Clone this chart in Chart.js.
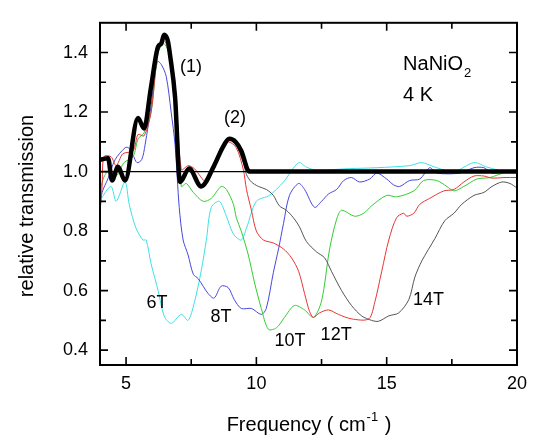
<!DOCTYPE html>
<html>
<head>
<meta charset="utf-8">
<script src="https://cdn.jsdelivr.net/npm/chart.js@4.4.1/dist/chart.umd.min.js"></script>
<style>
  html, body { margin: 0; padding: 0; background: #fff; }
</style>
</head>
<body>
<canvas id="grafico" width="540" height="440"></canvas>
<script>
// Frecuencia (cm-1) y transmision relativa
const frecRef = [4.0, 4.31, 4.46, 4.69, 4.96, 5.46, 5.69, 5.95, 6.23, 6.35, 6.46, 6.6, 6.69, 6.88, 7.07, 7.42, 7.88, 8.38, 8.7, 8.96, 9.2, 9.42, 9.73, 10.2, 12, 16, 20];
const transRef = [1.04, 1.045, 0.97, 1.016, 0.97, 1.18, 1.145, 1.28, 1.42, 1.43, 1.46, 1.44, 1.39, 1.25, 0.965, 1.01, 0.95, 1.02, 1.08, 1.11, 1.10, 1.07, 1.0, 1.0, 1.0, 1.0, 1.0];

const frec6T = [4.0, 4.42, 4.62, 4.96, 5.12, 5.38, 5.65, 5.77, 5.96, 6.23, 6.46, 6.73, 7.12, 7.38, 7.62, 7.88, 8.08, 8.27, 8.58, 8.85, 9.12, 9.42, 9.62, 10.0, 10.5, 11.04, 11.62, 11.92, 12.31, 13.58, 14.62, 15.88, 16.35, 16.92, 17.58, 18.35, 18.85, 19.54, 20];
const trans6T = [0.904, 0.95, 0.90, 0.965, 0.89, 0.81, 0.77, 0.77, 0.69, 0.60, 0.515, 0.49, 0.52, 0.50, 0.56, 0.665, 0.77, 0.88, 0.90, 0.85, 0.79, 0.77, 0.81, 0.90, 0.92, 0.965, 1.03, 1.015, 1.005, 1.01, 1.013, 1.02, 1.03, 1.013, 1.0, 1.03, 1.015, 1.0, 0.995];

const frec8T = [4.0, 4.08, 4.3, 4.58, 4.96, 5.1, 5.27, 5.42, 5.6, 5.73, 5.96, 6.2, 6.35, 6.54, 6.73, 6.88, 7.04, 7.19, 7.38, 7.58, 7.77, 8.15, 8.38, 8.65, 8.92, 9.15, 9.42, 9.81, 10.19, 10.38, 10.65, 10.85, 11.04, 11.27, 11.62, 11.85, 12.23, 12.5, 12.77, 13.08, 13.35, 13.65, 13.96, 14.35, 14.62, 15.0, 15.27, 15.5, 15.88, 16.27, 16.65, 16.92, 17.81, 18.35, 18.73, 19.04, 19.54];
const trans8T = [0.88, 0.93, 0.975, 1.04, 1.08, 1.08, 1.055, 1.03, 1.04, 1.09, 1.22, 1.37, 1.36, 1.32, 1.2, 1.09, 0.88, 0.77, 0.72, 0.655, 0.64, 0.59, 0.575, 0.615, 0.61, 0.57, 0.54, 0.54, 0.52, 0.54, 0.66, 0.74, 0.825, 0.92, 0.96, 0.94, 0.88, 0.90, 0.925, 0.94, 0.97, 0.98, 0.965, 0.975, 0.995, 0.975, 0.955, 0.95, 0.97, 0.975, 1.013, 0.995, 0.995, 1.013, 1.013, 0.995, 1.0];

const frec10T = [4.0, 4.12, 4.31, 4.62, 4.92, 5.27, 5.46, 5.69, 5.96, 6.23, 6.46, 6.73, 6.92, 7.12, 7.31, 7.58, 7.96, 8.27, 8.65, 8.85, 9.12, 9.23, 9.42, 9.69, 9.92, 10.19, 10.46, 10.77, 11.08, 11.46, 11.85, 12.19, 12.5, 12.81, 13.08, 13.27, 13.77, 14.12, 14.42, 15.0, 15.38, 16.04, 16.42, 16.92, 17.31, 17.58, 17.96, 18.46, 18.96, 19.54, 20];
const trans10T = [0.93, 0.975, 1.0, 0.985, 1.03, 1.05, 1.11, 1.13, 1.2, 1.40, 1.43, 1.37, 1.24, 0.95, 0.96, 0.93, 0.90, 0.91, 0.95, 0.94, 0.89, 0.845, 0.80, 0.72, 0.63, 0.54, 0.47, 0.475, 0.51, 0.55, 0.535, 0.51, 0.565, 0.74, 0.84, 0.87, 0.85, 0.86, 0.885, 0.92, 0.915, 0.935, 0.97, 0.97, 0.95, 0.935, 0.95, 0.975, 0.98, 0.997, 1.0];

const frec12T = [4.0, 4.08, 4.15, 4.42, 4.62, 4.88, 5.27, 5.46, 5.69, 5.96, 6.23, 6.46, 6.73, 6.92, 7.12, 7.38, 7.62, 8.08, 8.38, 8.7, 8.92, 9.23, 9.5, 9.62, 9.81, 10.0, 10.27, 10.65, 11.04, 11.35, 11.62, 11.85, 12.04, 12.19, 12.42, 12.77, 13.15, 13.65, 14.31, 14.54, 14.81, 15.08, 15.38, 15.65, 15.77, 16.04, 16.27, 16.65, 17.19, 17.58, 17.96, 18.35, 18.73, 19.04, 19.5, 20];
const trans12T = [0.86, 0.95, 1.05, 1.05, 1.02, 1.06, 1.07, 1.125, 1.12, 1.2, 1.41, 1.44, 1.38, 1.25, 1.006, 1.02, 1.01, 0.965, 1.02, 1.08, 1.10, 1.08, 1.006, 0.94, 0.87, 0.80, 0.77, 0.76, 0.74, 0.71, 0.665, 0.59, 0.53, 0.51, 0.525, 0.535, 0.52, 0.505, 0.505, 0.56, 0.665, 0.77, 0.845, 0.86, 0.85, 0.86, 0.89, 0.91, 0.935, 0.94, 0.965, 0.985, 0.985, 0.978, 0.98, 0.98];

const frec14T = [9.2, 9.5, 9.62, 9.81, 10.08, 10.38, 10.65, 10.88, 11.15, 11.42, 11.65, 11.92, 12.31, 12.62, 12.88, 13.27, 13.65, 14.04, 14.42, 14.69, 15.08, 15.46, 15.85, 16.08, 16.35, 16.85, 17.23, 17.58, 17.88, 18.35, 18.73, 19.04, 19.42, 19.73, 20];
const trans14T = [1.10, 1.03, 0.99, 0.965, 0.95, 0.94, 0.92, 0.885, 0.87, 0.845, 0.815, 0.765, 0.73, 0.71, 0.665, 0.60, 0.55, 0.515, 0.50, 0.497, 0.515, 0.525, 0.57, 0.645, 0.70, 0.775, 0.835, 0.86, 0.89, 0.92, 0.93, 0.95, 0.965, 0.96, 0.945];

// Linea de referencia en 1.0
const frecUno = [4, 20];
const transUno = [1, 1];

// Marcas de los ejes
const xTicks = [5, 10, 15, 20];
const xMenores = [7.5, 12.5, 17.5];
const yTicks = [0.4, 0.6, 0.8, 1.0, 1.2, 1.4];
const yMenores = [0.5, 0.7, 0.9, 1.1, 1.3];

// Etiquetas de campo (texto y posicion en unidades de los ejes)
const etiquetas = ['6T', '8T', '10T', '12T', '14T', '(1)', '(2)'];
const etiquetasX = [6.19, 8.64, 11.29, 13.06, 16.6, 7.49, 9.18];
const etiquetasY = [0.558, 0.511, 0.431, 0.452, 0.569, 1.353, 1.18];

function puntos(f, t) {
  return f.map((v, i) => ({ x: v, y: t[i] }));
}

Chart.defaults.font.family = '"Liberation Sans", Arial, sans-serif';
Chart.defaults.color = '#000';

const fuente = '"Liberation Sans", Arial, sans-serif';

// Marco, marcas hacia dentro y textos
const marcoPlugin = {
  id: 'marco',
  afterDraw(chart) {
    const { ctx, chartArea: a, scales: { x, y } } = chart;
    ctx.save();
    ctx.strokeStyle = '#000';
    ctx.lineWidth = 2;
    ctx.strokeRect(a.left, a.top, a.right - a.left, a.bottom - a.top);

    ctx.lineWidth = 1.6;
    ctx.beginPath();
    const marcaX = (v, largo) => {
      const px = x.getPixelForValue(v);
      ctx.moveTo(px, a.bottom); ctx.lineTo(px, a.bottom - largo);
      ctx.moveTo(px, a.top); ctx.lineTo(px, a.top + largo);
    };
    const marcaY = (v, largo) => {
      const py = y.getPixelForValue(v);
      ctx.moveTo(a.left, py); ctx.lineTo(a.left + largo, py);
      ctx.moveTo(a.right, py); ctx.lineTo(a.right - largo, py);
    };
    xTicks.forEach(v => marcaX(v, 8));
    xMenores.forEach(v => marcaX(v, 6));
    yTicks.forEach(v => marcaY(v, 8));
    yMenores.forEach(v => marcaY(v, 6));
    ctx.stroke();

    ctx.fillStyle = '#000';
    ctx.textAlign = 'center';
    ctx.textBaseline = 'middle';
    ctx.font = '18px ' + fuente;
    etiquetas.forEach((txt, i) => {
      ctx.fillText(txt, x.getPixelForValue(etiquetasX[i]), y.getPixelForValue(etiquetasY[i]));
    });

    // NaNiO2 y 4 K
    ctx.textAlign = 'left';
    ctx.textBaseline = 'alphabetic';
    const xn = x.getPixelForValue(15.63);
    ctx.font = '20px ' + fuente;
    ctx.fillText('NaNiO', xn, y.getPixelForValue(1.343));
    const wn = ctx.measureText('NaNiO').width;
    ctx.font = '13px ' + fuente;
    ctx.fillText('2', xn + wn + 1, y.getPixelForValue(1.343) + 7);
    ctx.font = '20px ' + fuente;
    ctx.fillText('4 K', xn, y.getPixelForValue(1.237));

    // titulo eje y
    ctx.save();
    ctx.translate(27, 206);
    ctx.rotate(-Math.PI / 2);
    ctx.textAlign = 'center';
    ctx.textBaseline = 'middle';
    ctx.fillText('relative transmission', 0, 0);
    ctx.restore();

    // titulo eje x con superindice
    const p1 = 'Frequency ( cm', p2 = '-1', p3 = ' )';
    ctx.font = '20px ' + fuente;
    const w1 = ctx.measureText(p1).width, w3 = ctx.measureText(p3).width;
    ctx.font = '13px ' + fuente;
    const w2 = ctx.measureText(p2).width;
    let xt = 309 - (w1 + w2 + w3 + 2) / 2;
    const base = 431;
    ctx.font = '20px ' + fuente;
    ctx.fillText(p1, xt, base);
    ctx.font = '13px ' + fuente;
    ctx.fillText(p2, xt + w1 + 1, base - 10);
    ctx.font = '20px ' + fuente;
    ctx.fillText(p3, xt + w1 + w2 + 2, base);
    ctx.restore();
  }
};

const linea = (f, t, color, ancho, suave) => ({
  data: puntos(f, t),
  borderColor: color,
  borderWidth: ancho,
  pointRadius: 0,
  fill: false,
  tension: 0.3,
  cubicInterpolationMode: suave ? 'default' : 'monotone'
});

const ctx = document.getElementById('grafico');
new Chart(ctx, {
  type: 'line',
  data: {
    datasets: [
      linea(frecRef, transRef, '#000000', 4.5, false),
      linea(frecUno, transUno, '#000000', 1.2, false),
      linea(frec14T, trans14T, '#555555', 1, true),
      linea(frec12T, trans12T, '#e83535', 1, true),
      linea(frec10T, trans10T, '#33cc33', 1, true),
      linea(frec8T, trans8T, '#4848dd', 1, true),
      linea(frec6T, trans6T, '#3ee0e6', 1, true)
    ]
  },
  options: {
    responsive: false,
    animation: false,
    devicePixelRatio: 1,
    layout: { padding: { left: 0, right: 23, top: 7, bottom: 0 } },
    plugins: {
      legend: { display: false },
      tooltip: { enabled: false }
    },
    scales: {
      x: {
        type: 'linear',
        min: 4,
        max: 20,
        grid: { display: false, drawTicks: false },
        border: { display: false },
        ticks: { padding: 8, font: { size: 18 }, color: '#000' },
        afterBuildTicks: s => { s.ticks = xTicks.map(v => ({ value: v })); },
        afterFit: s => { s.height = 75; }
      },
      y: {
        type: 'linear',
        min: 0.35,
        max: 1.5,
        grid: { display: false, drawTicks: false },
        border: { display: false },
        ticks: { padding: 12, font: { size: 18 }, color: '#000', callback: v => v.toFixed(1) },
        afterBuildTicks: s => { s.ticks = yTicks.map(v => ({ value: v })); },
        afterFit: s => { s.width = 100; }
      }
    }
  },
  plugins: [marcoPlugin]
});
</script>
</body>
</html>
